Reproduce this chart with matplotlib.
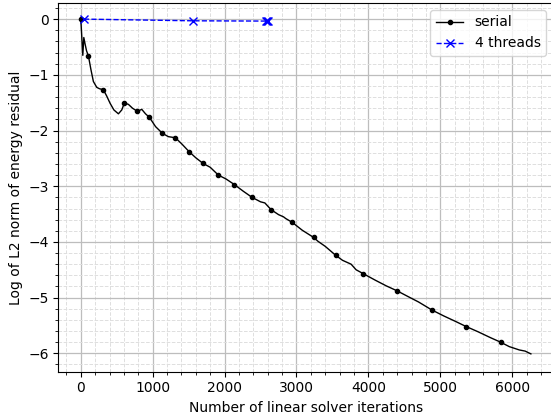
import numpy as np
import matplotlib
matplotlib.use("Agg")
import matplotlib.pyplot as plt
from matplotlib.ticker import MultipleLocator

# --------------------------------------------------------------------------- #
# Data
# --------------------------------------------------------------------------- #

serial_iters = [
    0, 28, 42, 60, 80, 106, 140, 175, 222, 260, 314, 360, 407, 460, 523, 570,
    606, 662, 720, 787, 848, 900, 954, 1040, 1135, 1218, 1316, 1404, 1506,
    1600, 1700, 1800, 1913, 2020, 2136, 2260, 2382, 2500, 2560, 2646, 2750,
    2820, 2850, 2942, 3080, 3239, 3300, 3400, 3545, 3640, 3760, 3829, 3929,
    4100, 4250, 4402, 4550, 4700, 4880, 5050, 5200, 5361, 5520, 5700, 5839,
    5960, 6100, 6180, 6260,
]
serial_resid = [
    0.0, -0.65, -0.33, -0.45, -0.57, -0.66, -0.90, -1.12, -1.225, -1.25,
    -1.267, -1.38, -1.51, -1.63, -1.70, -1.63, -1.506, -1.53, -1.60, -1.655,
    -1.62, -1.70, -1.763, -1.93, -2.05, -2.11, -2.13, -2.24, -2.379, -2.49,
    -2.59, -2.66, -2.80, -2.87, -2.97, -3.09, -3.20, -3.28, -3.30, -3.42,
    -3.51, -3.55, -3.58, -3.65, -3.79, -3.92, -3.99, -4.08, -4.24, -4.33,
    -4.40, -4.50, -4.57, -4.69, -4.79, -4.88, -4.98, -5.08, -5.22, -5.33,
    -5.42, -5.52, -5.61, -5.72, -5.80, -5.88, -5.94, -5.96, -6.01,
]
# iterations where the serial run has an outer-step marker
serial_marks = [
    0, 106, 314, 606, 787, 954, 1135, 1316, 1506, 1700, 1913, 2136, 2382,
    2646, 2942, 3239, 3545, 3929, 4402, 4880, 5361, 5839,
]

threads_iters = [45, 1560, 2570, 2590, 2600]
threads_resid = [0.0, -0.03, -0.035, -0.036, -0.037]

# --------------------------------------------------------------------------- #
# Plot
# --------------------------------------------------------------------------- #

fig = plt.figure(figsize=(5.51, 4.19), dpi=100)
ax = fig.add_axes([0.1058, 0.1129, 0.898, 0.880])

mark_idx = [serial_iters.index(m) for m in serial_marks]
ax.plot(serial_iters, serial_resid, "-", color="black", linewidth=1.0,
        marker=".", markevery=mark_idx, label="serial")
ax.plot(threads_iters, threads_resid, "--", color="blue", linewidth=1.0,
        marker="x", label="4 threads")

ax.xaxis.set_major_locator(MultipleLocator(1000))
ax.xaxis.set_minor_locator(MultipleLocator(200))
ax.yaxis.set_major_locator(MultipleLocator(1))
ax.yaxis.set_minor_locator(MultipleLocator(0.2))

ax.grid(True, which="major", color="#bdbdbd", linestyle="-", linewidth=0.9)
ax.grid(True, which="minor", color="#dedede", linestyle="--", linewidth=0.7)
ax.set_axisbelow(True)

# the right edge of the frame falls just outside the picture
ax.spines["right"].set_visible(False)

ax.set_xlim(-313, 6569)
ax.set_ylim(-6.33, 0.29)

ax.set_xlabel("Number of linear solver iterations")
ax.set_ylabel("Log of L2 norm of energy residual")
ax.legend(loc="upper right")

fig.savefig("out.png", dpi=100)
plt.close(fig)
